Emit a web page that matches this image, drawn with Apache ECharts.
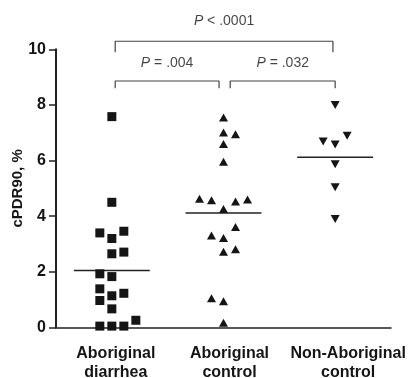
<!DOCTYPE html>
<html>
<head>
<meta charset="utf-8">
<script src="https://cdn.jsdelivr.net/npm/echarts@6/dist/echarts.min.js"></script>
<style>
  html, body { margin: 0; padding: 0; background: #fff; }
  #chart { width: 411px; height: 378px; }
</style>
</head>
<body>
<div id="chart"></div>
<script>
// 分组名称
const groups = ['Aboriginal\ndiarrhea', 'Aboriginal\ncontrol', 'Non-Aboriginal\ncontrol']

// 每组的 cPDR90 值 (%)，以及水平错开的档位（-2..2）
const diarrheaValues = [7.58, 4.50, 3.40, 3.20, 3.46, 2.65, 2.71, 1.93, 1.83, 1.39, 1.14, 1.23, 0.97, 0.67, 0.26, 0.05, 0.05, 0.05]
const diarrheaJitter = [0, 0, -1, 0, 1, 0, 1, -1, 0, -1, 0, 1, -1, 0, 2, -1, 0, 1]
const controlValues = [7.55, 7.01, 6.95, 6.60, 5.96, 4.63, 4.57, 4.26, 4.53, 4.60, 3.61, 3.31, 3.22, 2.72, 2.81, 1.05, 0.94, 0.17]
const controlJitter = [0, 0, 1, 0, 0, -2, -1, 0, 1, 2, 1, -1, 0, 0, 1, -1, 0, 0]
const nonAbValues = [8.00, 6.69, 6.58, 6.89, 5.87, 5.04, 3.90]
const nonAbJitter = [0, -1, 0, 1, 0, 0, 0]

// 中位数
const medians = [2.05, 4.12, 6.12]

// 显著性标注：[左端, 右端, 横线高度, 竖线下端, 文字高度, 文字]
const brackets = [
  [0.53, 2.48, 10.29, 9.89, 11.0, '< .0001'],
  [0.53, 1.46, 8.86, 8.60, 9.51, '= .004'],
  [1.56, 2.50, 8.86, 8.60, 9.51, '= .032']
]

const yTicks = [0, 2, 4, 6, 8, 10]

const JIT = 0.1075
const INK = '#151515'
const FONT = '"Liberation Sans", Arial, sans-serif'
const labelShift = [4, 6, 13] // 分类标签向右偏移 (px)

const toPoints = (vals, jit, g) => vals.map((v, i) => [g + 0.5 + jit[i] * JIT, v])

const chart = echarts.init(document.getElementById('chart'))

const bracketSeries = brackets.map(b => ({
  type: 'line',
  xAxisIndex: 1,
  clip: false,
  silent: true,
  symbol: 'none',
  lineStyle: { color: '#444', width: 1.2 },
  data: [[b[0], b[3]], [b[0], b[2]], [b[1], b[2]], [b[1], b[3]]]
}))

const textSeries = {
  type: 'scatter',
  xAxisIndex: 1,
  clip: false,
  silent: true,
  symbolSize: 0,
  data: brackets.map(b => ({
    value: [(b[0] + b[1]) / 2, b[4]],
    label: {
      show: true,
      position: 'inside',
      formatter: '{i|P} ' + b[5],
      color: INK,
      fontFamily: FONT,
      fontSize: 14,
      rich: { i: { fontStyle: 'italic', fontFamily: FONT, fontSize: 14, color: INK } }
    }
  }))
}

const medianSeries = medians.map((m, g) => ({
  type: 'line',
  xAxisIndex: 1,
  silent: true,
  symbol: 'none',
  z: 1,
  lineStyle: { color: '#222', width: 1.5 },
  data: [[g + 0.5 - 0.34, m], [g + 0.5 + 0.34, m]]
}))

const markerStyle = { color: INK, opacity: 1 }

// 每个分类一个 rich 样式，用左侧 padding 实现偏移
const labelRich = {}
labelShift.forEach((s, i) => {
  labelRich['g' + i] = {
    fontFamily: FONT, fontWeight: 'bold', fontSize: 16, color: INK,
    lineHeight: 19, padding: [0, 0, 0, s * 2]
  }
})

chart.setOption({
  animation: false,
  backgroundColor: '#fff',
  grid: { left: 56, right: 20, top: 49.3, bottom: 50.5, outerBoundsMode: 'none', containLabel: false },
  xAxis: [
    {
      type: 'category',
      data: groups,
      boundaryGap: true,
      axisLine: { lineStyle: { color: '#222', width: 1.5 } },
      axisTick: { alignWithLabel: true, length: 6, lineStyle: { color: '#222', width: 1.5 } },
      axisLabel: {
        color: INK, fontFamily: FONT, fontWeight: 'bold', fontSize: 16,
        lineHeight: 19, margin: 17, interval: 0,
        formatter: (val, idx) => val.split('\n').map(s => `{g${idx}|${s}}`).join('\n'),
        rich: labelRich
      }
    },
    { type: 'value', min: 0, max: 3, show: false }
  ],
  yAxis: {
    type: 'value',
    min: 0, max: 10, interval: 2,
    name: 'cPDR90, %',
    nameLocation: 'middle',
    nameGap: 31,
    nameMoveOverlap: false,
    nameTextStyle: { color: INK, fontFamily: FONT, fontWeight: 'bold', fontSize: 15 },
    splitLine: { show: false },
    axisLine: { show: true, lineStyle: { color: '#222', width: 2 } },
    axisTick: { show: true, length: 7, lineStyle: { color: '#222', width: 1.5 } },
    axisLabel: {
      color: INK, fontFamily: FONT, fontWeight: 'bold', fontSize: 16, margin: 10,
      customValues: yTicks
    }
  },
  series: [
    ...medianSeries,
    {
      type: 'scatter', xAxisIndex: 1, symbol: 'rect', symbolSize: 9,
      itemStyle: markerStyle, data: toPoints(diarrheaValues, diarrheaJitter, 0)
    },
    {
      type: 'scatter', xAxisIndex: 1, symbol: 'triangle', symbolSize: [9, 8],
      itemStyle: markerStyle, data: toPoints(controlValues, controlJitter, 1)
    },
    {
      type: 'scatter', xAxisIndex: 1, symbol: 'triangle', symbolRotate: 180, symbolSize: [9, 8],
      itemStyle: markerStyle, data: toPoints(nonAbValues, nonAbJitter, 2)
    },
    ...bracketSeries,
    textSeries
  ]
})
</script>
</body>
</html>
